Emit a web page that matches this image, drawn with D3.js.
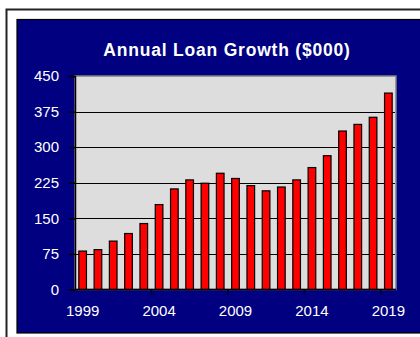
<!DOCTYPE html>
<html>
<head>
<meta charset="utf-8">
<script src="https://cdn.jsdelivr.net/npm/d3@7"></script>
<style>
  html, body { margin: 0; padding: 0; background: #fff; }
  svg { display: block; }
  text { font-family: "Liberation Sans", Arial, sans-serif; fill: #fff; }
</style>
</head>
<body>
<svg id="chart"></svg>
<script>
const width = 420;
const height = 337;

// data
const years = d3.range(1999, 2020).map(String);
const loans = [81, 84, 102, 118, 139, 179, 212, 231, 224, 245, 234, 219, 208, 216, 231, 257, 282, 334, 348, 363, 414];
const yTicks = [0, 75, 150, 225, 300, 375, 450];
const xLabels = ["1999", "2004", "2009", "2014", "2019"];

const plot = { left: 75, top: 76, right: 396, bottom: 289.5 };

const svg = d3.select("#chart")
  .attr("width", width)
  .attr("height", height);

// outer frame + navy panel
svg.append("rect")
  .attr("x", 6.5).attr("y", 9.5)
  .attr("width", 430).attr("height", 340)
  .attr("fill", "#fff")
  .attr("stroke", "#222").attr("stroke-width", 2);

svg.append("rect")
  .attr("x", 17).attr("y", 19.5)
  .attr("width", 420).attr("height", 313.5)
  .attr("fill", "#000080")
  .attr("stroke", "#000").attr("stroke-width", 1.2);

svg.append("text")
  .attr("x", 227).attr("y", 56)
  .attr("text-anchor", "middle")
  .attr("font-size", 17.5)
  .attr("letter-spacing", 0.8)
  .attr("font-weight", "bold")
  .text("Annual Loan Growth ($000)");

const x = d3.scaleBand()
  .domain(years)
  .range([plot.left, plot.right])
  .paddingInner(0.5)
  .paddingOuter(0.25);

const y = d3.scaleLinear()
  .domain([0, 450])
  .range([plot.bottom, plot.top]);

// plot area
svg.append("rect")
  .attr("x", plot.left).attr("y", plot.top)
  .attr("width", plot.right - plot.left)
  .attr("height", plot.bottom - plot.top)
  .attr("fill", "#dddddd")
  .attr("stroke", "#808080").attr("stroke-width", 1.5);

// gridlines
svg.append("g")
  .selectAll("line")
  .data(yTicks.filter(d => d > 0 && d < 450))
  .join("line")
  .attr("x1", plot.left).attr("x2", plot.right - 1)
  .attr("y1", d => Math.round(y(d)) + 0.5)
  .attr("y2", d => Math.round(y(d)) + 0.5)
  .attr("stroke", "#000").attr("stroke-width", 1.2);

// bars
svg.append("g")
  .selectAll("rect")
  .data(loans)
  .join("rect")
  .attr("x", (d, i) => x(years[i]))
  .attr("y", d => y(d))
  .attr("width", x.bandwidth())
  .attr("height", d => y(0) - y(d))
  .attr("fill", "#ff0000")
  .attr("stroke", "#000").attr("stroke-width", 1.2);

// y axis
const yAxis = svg.append("g")
  .attr("transform", `translate(${plot.left},0)`)
  .call(d3.axisLeft(y).tickValues(yTicks).tickSize(6).tickPadding(10));
yAxis.select(".domain").attr("stroke", "#000").attr("stroke-width", 1.5);
yAxis.selectAll(".tick line").attr("stroke", "#000").attr("stroke-width", 1.5);
yAxis.selectAll(".tick text")
  .attr("fill", "#fff")
  .attr("font-size", 15)
  .attr("font-family", "Liberation Sans, Arial, sans-serif");

// x axis: tick marks every 5 categories, labels under the bars
const step = x.step();
const xLine = svg.append("g");
xLine.append("line")
  .attr("x1", plot.left).attr("x2", plot.right)
  .attr("y1", plot.bottom).attr("y2", plot.bottom)
  .attr("stroke", "#000").attr("stroke-width", 1.5);
xLine.selectAll("line.tk")
  .data([5, 10, 15, 20])
  .join("line")
  .attr("class", "tk")
  .attr("x1", d => plot.left + d * step).attr("x2", d => plot.left + d * step)
  .attr("y1", plot.bottom).attr("y2", plot.bottom + 5)
  .attr("stroke", "#000").attr("stroke-width", 1.5);

svg.append("g")
  .selectAll("text")
  .data(xLabels)
  .join("text")
  .attr("x", d => x(d) + x.bandwidth() / 2)
  .attr("y", 316)
  .attr("text-anchor", "middle")
  .attr("font-size", 15)
  .text(d => d);
</script>
</body>
</html>
